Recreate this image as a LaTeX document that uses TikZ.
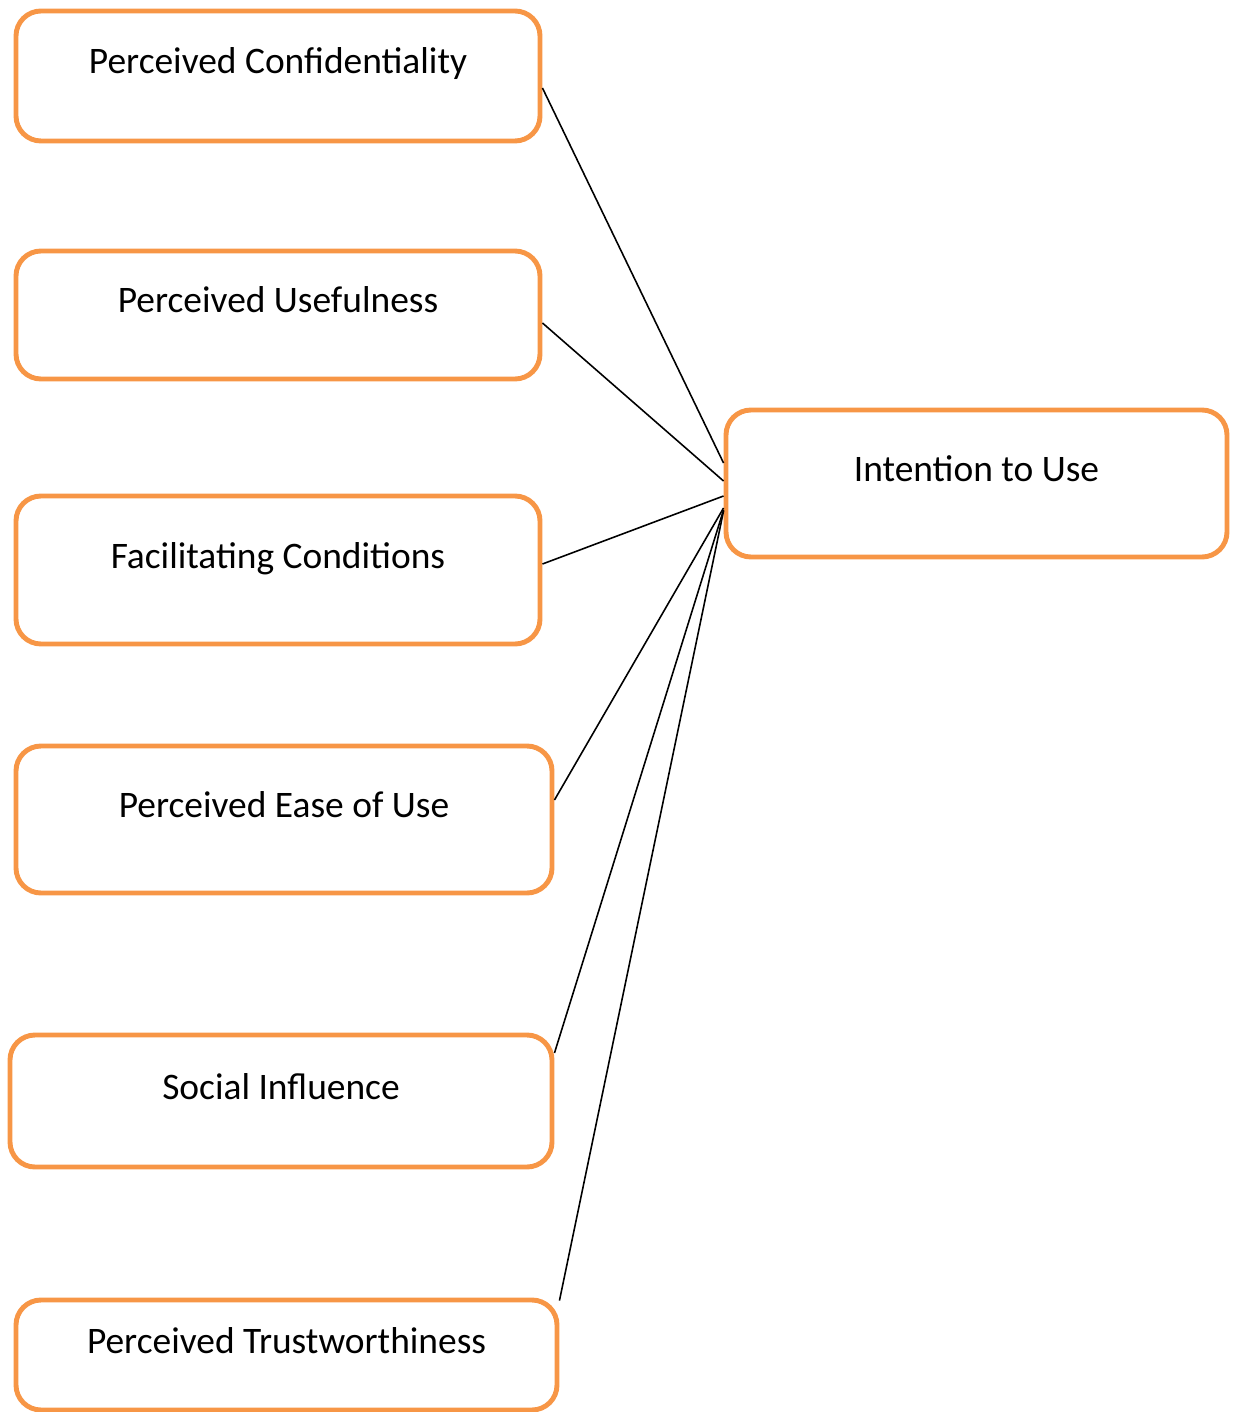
\documentclass[tikz,border=0pt]{standalone}
\usepackage{fontspec}
\setmainfont{Carlito}
\usepackage{tikz}
\usetikzlibrary{calc}
\definecolor{boxorange}{HTML}{F79646}

\begin{document}
\begin{tikzpicture}
  \tikzstyle{box}=[draw=boxorange, line width=2.8pt, rounded corners=0.5cm, align=center, inner sep=0pt, text height=0.5cm, text depth=0.58cm, font=\fontsize{21.3}{25}\selectfont]
  \tikzstyle{link}=[line width=0.9pt]
  \useasboundingbox (0,0) rectangle (24.8,-28.24);
  \node[box, minimum width=10.48cm, minimum height=2.6cm] (conf) at (5.56,-1.52) {Perceived Confidentiality};
  \node[box, minimum width=10.48cm, minimum height=2.56cm] (useful) at (5.56,-6.30) {Perceived Usefulness};
  \node[box, minimum width=10.48cm, minimum height=2.96cm] (facil) at (5.56,-11.40) {Facilitating Conditions};
  \node[box, minimum width=10.72cm, minimum height=2.94cm] (ease) at (5.68,-16.39) {Perceived Ease of Use};
  \node[box, minimum width=10.84cm, minimum height=2.64cm] (social) at (5.62,-22.02) {Social Influence};
  \node[box, minimum width=10.82cm, minimum height=2.2cm] (trust) at (5.73,-27.10) {Perceived Trustworthiness};
  \node[box, minimum width=10.02cm, minimum height=2.94cm] (intent) at (19.53,-9.67) {Intention to Use};
  \draw[link] ($(conf.east)+(0,-0.24)$) -- ($(intent.west)+(0,0.41)$);
  \draw[link] ($(useful.east)+(0,-0.16)$) -- ($(intent.west)+(0,0.05)$);
  \draw[link] ($(facil.east)+(0,0.12)$) -- ($(intent.west)+(0,-0.25)$);
  \draw[link] ($(ease.east)+(0,0.39)$) -- ($(intent.west)+(0,-0.49)$);
  \draw[link] ($(social.east)+(0,0.96)$) -- ($(intent.west)+(0,-0.53)$);
  \draw[link] ($(trust.north east)+(0,-0.06)$) -- ($(intent.west)+(0,-0.55)$);
\end{tikzpicture}
\end{document}
